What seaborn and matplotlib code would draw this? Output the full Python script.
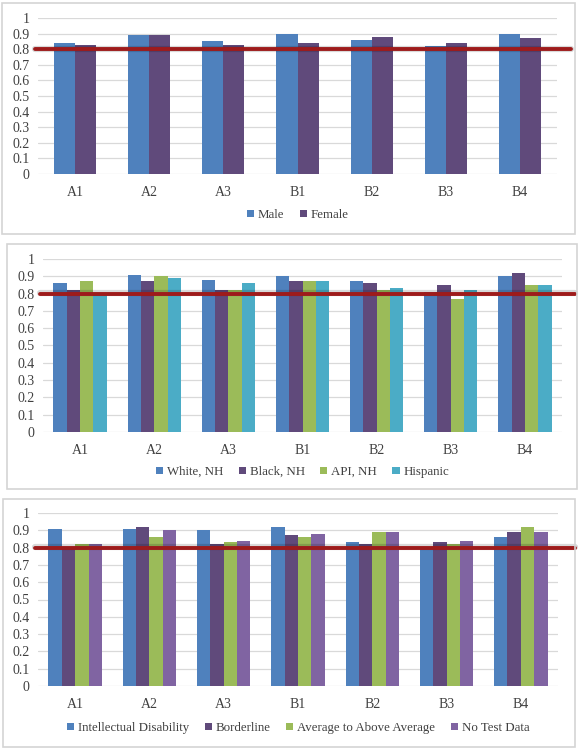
import numpy as np
import pandas as pd
import seaborn as sns
import matplotlib.pyplot as plt
from matplotlib.patches import Rectangle

# data
categories = ["A1", "A2", "A3", "B1", "B2", "B3", "B4"]

male = [0.84, 0.89, 0.85, 0.90, 0.86, 0.82, 0.90]
female = [0.83, 0.89, 0.83, 0.84, 0.88, 0.84, 0.87]

white_nh = [0.86, 0.91, 0.88, 0.90, 0.87, 0.81, 0.90]
black_nh = [0.82, 0.87, 0.82, 0.87, 0.86, 0.85, 0.92]
api_nh = [0.87, 0.90, 0.82, 0.87, 0.82, 0.77, 0.85]
hispanic = [0.80, 0.89, 0.86, 0.87, 0.83, 0.82, 0.85]

intellectual = [0.91, 0.91, 0.90, 0.92, 0.83, 0.80, 0.86]
borderline = [0.80, 0.92, 0.82, 0.87, 0.82, 0.83, 0.89]
avg_above = [0.82, 0.86, 0.83, 0.86, 0.89, 0.82, 0.92]
no_test = [0.82, 0.90, 0.84, 0.88, 0.89, 0.84, 0.89]

threshold = 0.8

panels = [
    {"series": {"Male": male, "Female": female},
     "colors": ["#4F81BD", "#604A7B"], "width": 0.57},
    {"series": {"White, NH": white_nh, "Black, NH": black_nh,
                "API, NH": api_nh, "Hispanic": hispanic},
     "colors": ["#4F81BD", "#604A7B", "#9BBB59", "#4BACC6"], "width": 0.72},
    {"series": {"Intellectual Disability": intellectual, "Borderline": borderline,
                "Average to Above Average": avg_above, "No Test Data": no_test},
     "colors": ["#4F81BD", "#604A7B", "#9BBB59", "#8064A2"], "width": 0.72},
]

sns.set_style("white")
plt.rcParams['font.family'] = ['Liberation Serif', 'DejaVu Serif']

W, H = 579, 750
fig = plt.figure(figsize=(W / 100, H / 100), dpi=100)

# pixel layout: (box x0, y0, x1, y1), (axes left, top, right, bottom), legend y, red line end
layout = [
    ((2, 3, 575, 234), (38, 18, 557, 174), 215, 571),
    ((7, 244, 577, 489), (43, 259, 562, 432), 472, 575),
    ((3, 499, 575, 747), (38, 513, 558, 686), 728, 575),
]

for panel, (box, axbox, leg_y, red_end) in zip(panels, layout):
    bx0, by0, bx1, by1 = box
    fig.patches.append(Rectangle((bx0 / W, 1 - by1 / H), (bx1 - bx0) / W, (by1 - by0) / H,
                                 transform=fig.transFigure, fill=False,
                                 edgecolor="#D4D4D4", linewidth=1.2))
    l, t, r, b = axbox
    ax = fig.add_axes([l / W, 1 - b / H, (r - l) / W, (b - t) / H])

    rows = []
    for name, vals in panel["series"].items():
        for c, v in zip(categories, vals):
            rows.append({"cat": c, "group": name, "value": v})
    df = pd.DataFrame(rows)

    sns.barplot(data=df, x="cat", y="value", hue="group",
                palette=panel["colors"], width=panel["width"], gap=0,
                saturation=1, linewidth=0, edgecolor="none",
                ax=ax, legend=True, zorder=2)

    ax.set_ylim(0, 1)
    ax.set_xlim(-0.5, len(categories) - 0.5)
    ax.set_yticks(np.arange(0, 1.01, 0.1))
    ax.set_yticklabels(["0"] + [f"{v:.1f}" for v in np.arange(0.1, 0.95, 0.1)] + ["1"])
    ax.yaxis.grid(True, color="#D9D9D9", linewidth=0.9, zorder=0)
    ax.set_axisbelow(True)
    for s in ax.spines.values():
        s.set_visible(False)
    ax.tick_params(axis="both", length=0, labelsize=10, colors="#404040")
    ax.tick_params(axis="x", pad=9)
    ax.tick_params(axis="y", pad=6)
    ax.set_xlabel("")
    ax.set_ylabel("")

    # threshold line, reaching past the plot area like in the original
    xmax = (red_end - l) / (r - l)
    xmin = -3 / (r - l)
    ax.axhline(threshold + 0.004, xmin=xmin, xmax=xmax, color="#000000", alpha=0.15,
               linewidth=4.5, clip_on=False, zorder=4)
    ax.axhline(threshold, xmin=xmin, xmax=xmax, color="#9E1B1B",
               linewidth=2.8, clip_on=False, zorder=5)

    handles, labels = ax.get_legend_handles_labels()
    leg = ax.legend(handles, labels, loc="center", ncol=len(labels), frameon=False,
                    bbox_to_anchor=(0.5, (b - leg_y) / (b - t)),
                    handlelength=0.55, handleheight=0.55, handletextpad=0.3,
                    columnspacing=1.2, fontsize=9.3,
                    borderaxespad=0, borderpad=0)
    for txt in leg.get_texts():
        txt.set_fontfamily("Liberation Serif")
        txt.set_color("#404040")

fig.savefig("out.png", dpi=100)
